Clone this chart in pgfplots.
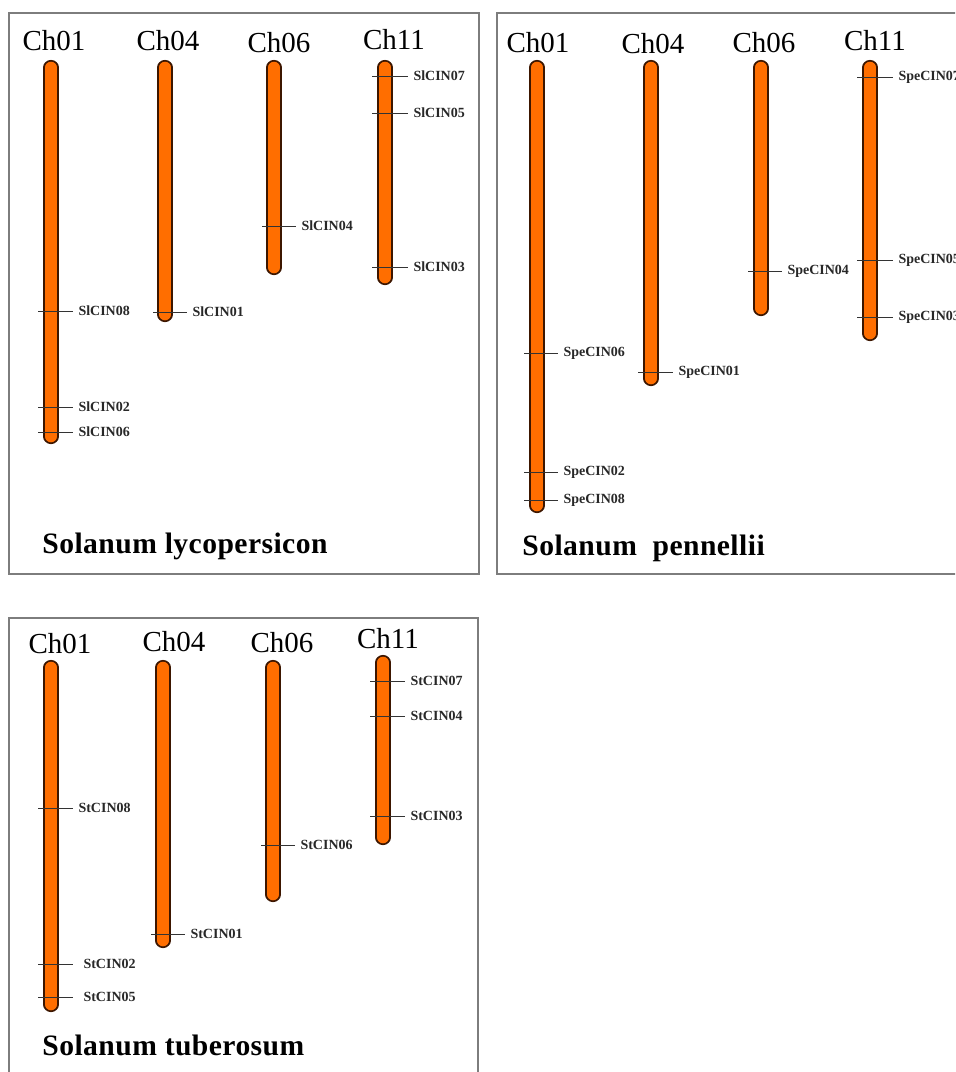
\documentclass[border=0pt]{standalone}
\usepackage{fontspec}
\setmainfont{Liberation Serif}
\usepackage{pgfplots}
\pgfplotsset{compat=1.18}
\definecolor{chromfill}{RGB}{255,110,0}
\definecolor{chromedge}{RGB}{60,22,0}
\definecolor{framegray}{RGB}{125,125,125}
\definecolor{lbl}{RGB}{40,40,40}
% chromosome: x, cap-centre top, cap-centre bottom (pixel units)
\newcommand{\chrom}[3]{%
 \addplot[draw=chromedge, line width=7.6pt, line cap=round, forget plot] coordinates {(#1,#2) (#1,#3)};
 \addplot[draw=chromfill, line width=5.8pt, line cap=round, forget plot] coordinates {(#1,#2) (#1,#3)};}
% marker: x start, x end, y, label, gap
\newcommand{\mk}[5][2.5pt]{%
 \addplot[draw=black!80, line width=0.5pt, forget plot] coordinates {(#2,#4) (#3,#4)} node[pos=1, anchor=west, inner sep=0pt, xshift=#1, text=lbl, font=\fontsize{7}{8}\selectfont\bfseries]{#5};}
\tikzset{chtitle/.style={anchor=base, inner sep=0pt, font=\fontsize{14.5}{17}\selectfont},
 species/.style={anchor=base west, inner sep=0pt, font=\fontsize{14.8}{18}\selectfont\bfseries\addfontfeature{LetterSpace=1.5}}}
\begin{document}
\begin{tikzpicture}
\useasboundingbox (0,0) rectangle (477.5pt,536pt);
\clip (0,0) rectangle (477.5pt,536pt);
\fill[white] (0,0) rectangle (477.5pt,536pt);
\begin{axis}[at={(0,0)}, anchor=south west, width=477.5pt, height=536pt, scale only axis,
 xmin=0, xmax=955, ymin=0, ymax=1072, y dir=reverse, hide axis, clip=false]
% frames
\draw[framegray, line width=0.75pt] (axis cs:9,13) rectangle (axis cs:479,574);
\draw[framegray, line width=0.75pt] (axis cs:497,13) rectangle (axis cs:965,574);
\draw[framegray, line width=0.75pt] (axis cs:9,618) rectangle (axis cs:478,1085);
% ---------- Solanum lycopersicon ----------
\chrom{51}{67.5}{436.5}
\chrom{165}{67.5}{314.5}
\chrom{274}{67.5}{267.5}
\chrom{385}{67.5}{277.5}
\mk{38}{73}{311}{SlCIN08}
\mk{38}{73}{407}{SlCIN02}
\mk{38}{73}{432}{SlCIN06}
\mk{153}{187}{312}{SlCIN01}
\mk{262}{296}{226}{SlCIN04}
\mk{372}{408}{76}{SlCIN07}
\mk{372}{408}{113}{SlCIN05}
\mk{372}{408}{267}{SlCIN03}
\node[chtitle] at (axis cs:54,50) {Ch01};
\node[chtitle] at (axis cs:168,50) {Ch04};
\node[chtitle] at (axis cs:279,52) {Ch06};
\node[chtitle] at (axis cs:394,49) {Ch11};
\node[species] at (axis cs:42,553) {Solanum lycopersicon};
% ---------- Solanum pennellii ----------
\chrom{537}{67.5}{505.5}
\chrom{651}{67.5}{378.5}
\chrom{761}{67.5}{308.5}
\chrom{870}{67.5}{333.5}
\mk{524}{558}{353}{SpeCIN06}
\mk{524}{558}{472}{SpeCIN02}
\mk{524}{558}{500}{SpeCIN08}
\mk{638}{673}{372}{SpeCIN01}
\mk{748}{782}{271}{SpeCIN04}
\mk{857}{893}{77}{SpeCIN07}
\mk{857}{893}{260}{SpeCIN05}
\mk{857}{893}{317}{SpeCIN03}
\node[chtitle] at (axis cs:538,52) {Ch01};
\node[chtitle] at (axis cs:653,53) {Ch04};
\node[chtitle] at (axis cs:764,52) {Ch06};
\node[chtitle] at (axis cs:875,50) {Ch11};
\node[species] at (axis cs:522,555) {Solanum\ \ pennellii};
% ---------- Solanum tuberosum ----------
\chrom{51}{667.5}{1004.5}
\chrom{163}{667.5}{940.5}
\chrom{273}{667.5}{894.5}
\chrom{383}{662.5}{837.5}
\mk{38}{73}{808}{StCIN08}
\mk[5pt]{38}{73}{964}{StCIN02}
\mk[5pt]{38}{73}{997}{StCIN05}
\mk{151}{185}{934}{StCIN01}
\mk{261}{295}{845}{StCIN06}
\mk{370}{405}{681}{StCIN07}
\mk{370}{405}{716}{StCIN04}
\mk{370}{405}{816}{StCIN03}
\node[chtitle] at (axis cs:60,653) {Ch01};
\node[chtitle] at (axis cs:174,651) {Ch04};
\node[chtitle] at (axis cs:282,652) {Ch06};
\node[chtitle] at (axis cs:388,648) {Ch11};
\node[species] at (axis cs:42,1055) {Solanum tuberosum};
\end{axis}
\end{tikzpicture}
\end{document}
